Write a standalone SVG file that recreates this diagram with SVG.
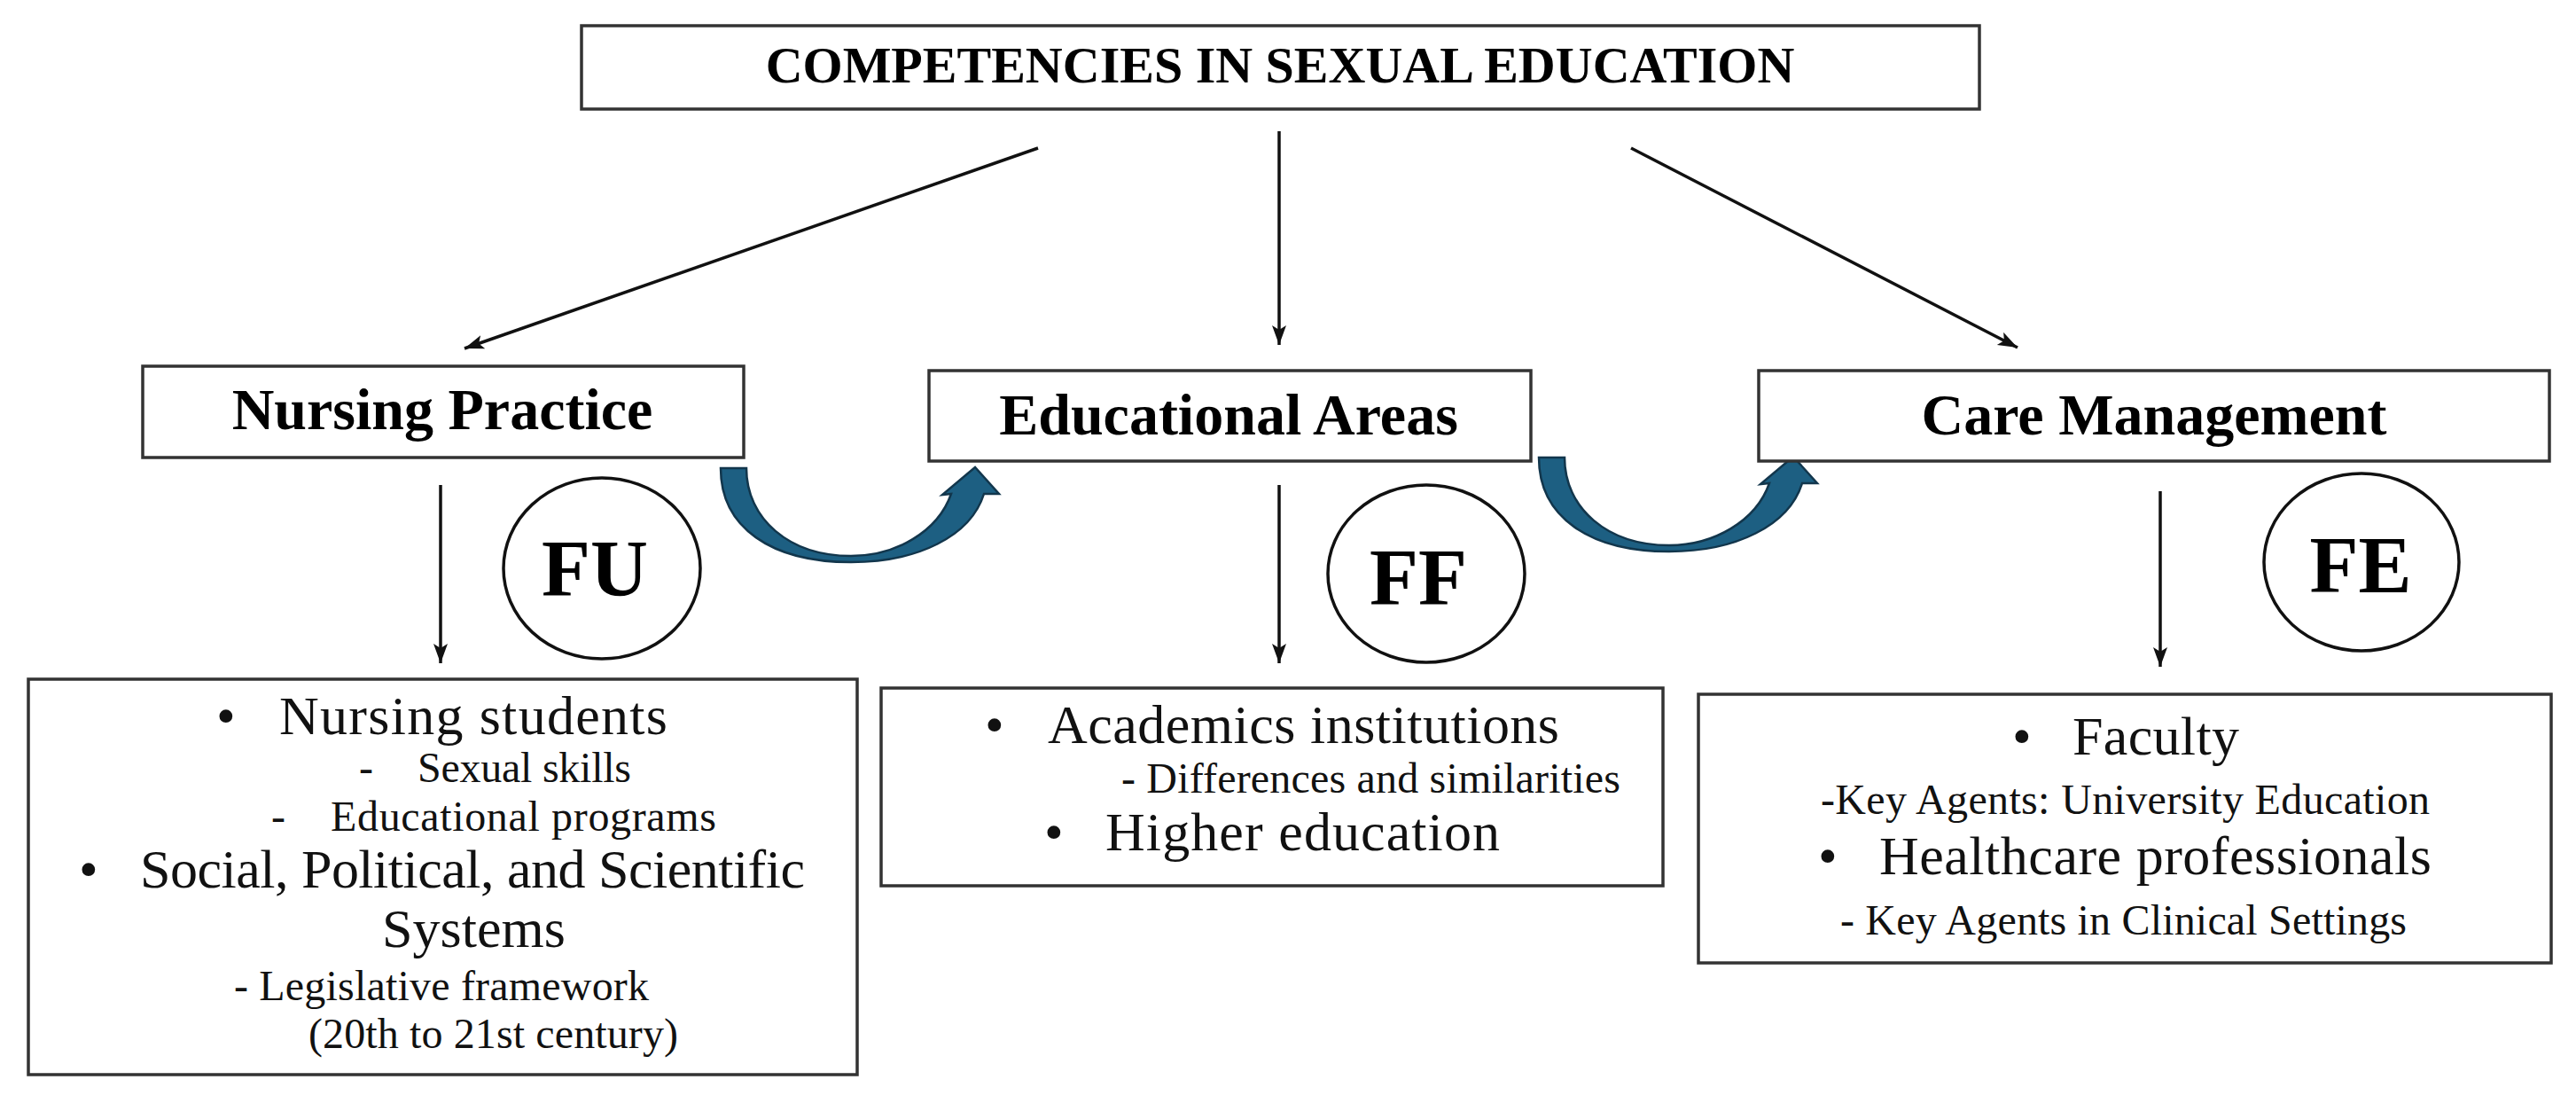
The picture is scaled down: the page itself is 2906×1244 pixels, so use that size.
<svg xmlns="http://www.w3.org/2000/svg" width="2906" height="1244" viewBox="0 0 2906 1244">
<defs>
<style>
.box{fill:#fff;stroke:#333;stroke-width:3.5}
.circ{fill:#fff;stroke:#111;stroke-width:3.5}
.hdr{font-family:"Liberation Serif","Times New Roman",serif;font-weight:bold;fill:#000}
.txt{font-family:"Liberation Serif","Times New Roman",serif;fill:#111}
.big{font-size:62px}
.sub{font-size:48px}
.ln{stroke:#111;stroke-width:3.5;fill:none;marker-end:url(#ah)}
.curv{fill:#1d5f82;stroke:#12364c;stroke-width:2.5;stroke-linejoin:miter}
</style>
<marker id="ah" markerUnits="userSpaceOnUse" markerWidth="24" markerHeight="18" refX="22" refY="8" orient="auto">
<path d="M0,0 L22,8 L0,16 L5,8 z" fill="#111"/>
</marker>
<path id="curved" d="M813,528 L842,528 C842,585 890,627 960,627 C1010,627 1058,600 1073,557 L1063,558 L1100,527 L1127,557 L1110,557 C1095,605 1035,634 960,634 C870,634 813,595 813,528 Z"/>
</defs>
<rect width="2906" height="1244" fill="#fff"/>

<g id="connectors">
<line class="ln" x1="1171" y1="167" x2="524" y2="393"/>
<line class="ln" x1="1443" y1="148" x2="1443" y2="389"/>
<line class="ln" x1="1840" y1="167" x2="2276" y2="392"/>
<line class="ln" x1="497" y1="547" x2="497" y2="748"/>
<line class="ln" x1="1443" y1="547" x2="1443" y2="748"/>
<line class="ln" x1="2437" y1="554" x2="2437" y2="752"/>
<use href="#curved" class="curv"/>
<use href="#curved" class="curv" transform="translate(923,-12)"/>
</g>

<g id="node-title">
<rect class="box" x="656" y="29" width="1577" height="94"/>
<text class="hdr" x="1444" y="93" font-size="58" text-anchor="middle">COMPETENCIES IN SEXUAL EDUCATION</text>
</g>

<g id="node-nursing-practice">
<rect class="box" x="161" y="413" width="678" height="103"/>
<text class="hdr" x="499" y="484" font-size="66" text-anchor="middle">Nursing Practice</text>
</g>

<g id="node-educational-areas">
<rect class="box" x="1048" y="418" width="679" height="102"/>
<text class="hdr" x="1386" y="490" font-size="66" text-anchor="middle">Educational Areas</text>
</g>

<g id="node-care-management">
<rect class="box" x="1984" y="418" width="892" height="102"/>
<text class="hdr" x="2430" y="490" font-size="66" text-anchor="middle">Care Management</text>
</g>

<g id="node-fu">
<ellipse class="circ" cx="679" cy="641" rx="111" ry="102"/>
<text class="hdr" x="671" y="672" font-size="90" text-anchor="middle">FU</text>
</g>

<g id="node-ff">
<ellipse class="circ" cx="1609" cy="647" rx="111" ry="100"/>
<text class="hdr" x="1600" y="682" font-size="90" text-anchor="middle">FF</text>
</g>

<g id="node-fe">
<ellipse class="circ" cx="2664" cy="634" rx="110" ry="100"/>
<text class="hdr" x="2663" y="668" font-size="90" text-anchor="middle">FE</text>
</g>

<g id="node-fu-content">
<rect class="box" x="32" y="766" width="935" height="446"/>
<text class="txt big" x="244" y="828">•</text>
<text class="txt big" x="315" y="828" textLength="438">Nursing students</text>
<text class="txt sub" x="405" y="882">-</text>
<text class="txt sub" x="471" y="882" textLength="241">Sexual skills</text>
<text class="txt sub" x="306" y="937">-</text>
<text class="txt sub" x="373" y="937" textLength="435">Educational programs</text>
<text class="txt big" x="89" y="1001">•</text>
<text class="txt big" x="158" y="1001" textLength="750">Social, Political, and Scientific</text>
<text class="txt big" x="431" y="1068" textLength="207">Systems</text>
<text class="txt sub" x="264" y="1128" textLength="468">- Legislative framework</text>
<text class="txt sub" x="348" y="1182" textLength="417">(20th to 21st century)</text>
</g>

<g id="node-ff-content">
<rect class="box" x="994" y="776" width="882" height="223"/>
<text class="txt big" x="1111" y="838">•</text>
<text class="txt big" x="1182" y="838" textLength="577">Academics institutions</text>
<text class="txt sub" x="1265" y="894" textLength="563">- Differences and similarities</text>
<text class="txt big" x="1178" y="959">•</text>
<text class="txt big" x="1247" y="959" textLength="445">Higher education</text>
</g>

<g id="node-fe-content">
<rect class="box" x="1916" y="783" width="962" height="303"/>
<text class="txt big" x="2270" y="851">•</text>
<text class="txt big" x="2338" y="851" textLength="188">Faculty</text>
<text class="txt sub" x="2054" y="918" textLength="687">-Key Agents: University Education</text>
<text class="txt big" x="2051" y="986">•</text>
<text class="txt big" x="2120" y="986" textLength="623">Healthcare professionals</text>
<text class="txt sub" x="2076" y="1054" textLength="639">- Key Agents in Clinical Settings</text>
</g>
</svg>
